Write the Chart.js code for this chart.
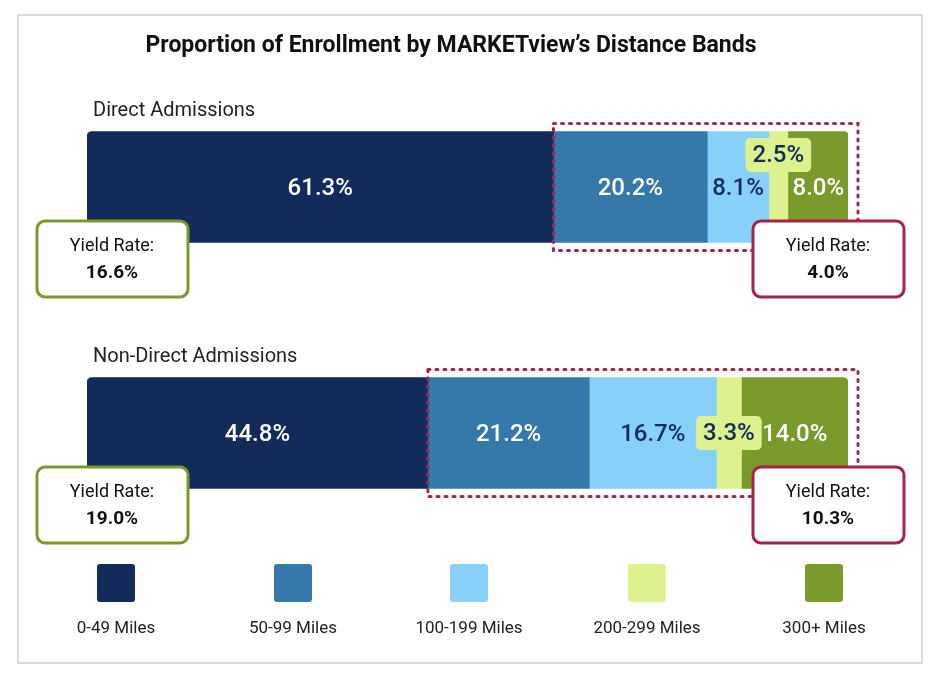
<!DOCTYPE html>
<html>
<head>
<meta charset="utf-8">
<script src="https://cdn.jsdelivr.net/npm/chart.js@4"></script>
<style>
  body { margin: 0; background: #fff; }
  #wrap { position: relative; width: 941px; height: 679px; }
</style>
</head>
<body>
<div id="wrap"><canvas id="chart" width="941" height="679"></canvas></div>
<script>
const groups = ["Direct Admissions", "Non-Direct Admissions"];
const bands = ["0-49 Miles", "50-99 Miles", "100-199 Miles", "200-299 Miles", "300+ Miles"];
const band0 = [61.3, 44.8];
const band1 = [20.2, 21.2];
const band2 = [8.1, 16.7];
const band3 = [2.5, 3.3];
const band4 = [8.0, 14.0];
const yieldNear = [16.6, 19.0];
const yieldFar = [4.0, 10.3];

const colors = ["#122b5a", "#3479a9", "#87d0f9", "#ddf18f", "#7a9a2b"];
const labelColors = ["#fff", "#fff", "#122b5a", "#122b5a", "#fff"];
const FONT = "Roboto, 'Noto Sans', sans-serif";
const RED = "#a52443";
const GREEN = "#7a9a2b";

function roundRect(ctx, x, y, w, h, r) {
  ctx.beginPath();
  ctx.roundRect(x, y, w, h, r);
}

const decor = {
  id: "decor",
  afterDatasetsDraw(chart) {
    const ctx = chart.ctx;
    const xs = chart.scales.x;
    const ys = chart.scales.y;
    const half = 55.5;
    ctx.save();

    // frame
    ctx.strokeStyle = "#cfcfcf";
    ctx.lineWidth = 1.5;
    ctx.strokeRect(18, 15, 904, 648);

    // title
    ctx.fillStyle = "#111";
    ctx.font = "bold 23px " + FONT;
    ctx.textAlign = "center";
    ctx.textBaseline = "middle";
    ctx.fillText("Proportion of Enrollment by MARKETview\u2019s Distance Bands", 451, 46);

    groups.forEach((g, i) => {
      const cy = ys.getPixelForValue(i);
      // group label
      ctx.fillStyle = "#222";
      ctx.font = "20px " + FONT;
      ctx.textAlign = "left";
      ctx.fillText(g, 93, cy - 76);

      // dotted box around 50+ miles
      ctx.strokeStyle = RED;
      ctx.lineWidth = 3;
      ctx.setLineDash([2, 6]);
      ctx.lineCap = "round";
      const x0 = xs.getPixelForValue(band0[i]);
      const x1 = xs.getPixelForValue(100) + 10;
      ctx.strokeRect(x0, cy - half - 8, x1 - x0, 2 * half + 16);
      ctx.setLineDash([]);

      // value labels
      const sets = chart.data.datasets;
      let acc = 0;
      sets.forEach((ds, k) => {
        const v = ds.data[i];
        const mid = xs.getPixelForValue(acc + v / 2);
        acc += v;
        const txt = v.toFixed(1) + "%";
        ctx.font = "500 24px " + FONT;
        ctx.textAlign = "center";
        if (k === 3) {
          const ty = i === 0 ? cy - 32 : cy;
          const tw = ctx.measureText(txt).width + 14;
          ctx.fillStyle = colors[3];
          roundRect(ctx, mid - tw / 2, ty - 17, tw, 34, 5);
          ctx.fill();
          ctx.fillStyle = labelColors[3];
          ctx.fillText(txt, mid, ty + 1);
        } else {
          ctx.fillStyle = labelColors[k];
          ctx.fillText(txt, mid, cy + 2);
        }
      });

      // yield boxes
      const boxes = [[37, GREEN, yieldNear[i]], [753, RED, yieldFar[i]]];
      boxes.forEach(([bx, col, val]) => {
        const by = cy + 34;
        ctx.fillStyle = "#fff";
        ctx.strokeStyle = col;
        ctx.lineWidth = 3;
        roundRect(ctx, bx, by, 151, 76, 8);
        ctx.fill();
        ctx.stroke();
        ctx.fillStyle = "#111";
        ctx.textAlign = "center";
        ctx.font = "18px " + FONT;
        ctx.fillText("Yield Rate:", bx + 75, by + 25);
        ctx.font = "bold 19px " + FONT;
        ctx.fillText(val.toFixed(1) + "%", bx + 75, by + 52);
      });
    });

    // legend
    const lx = [116, 293, 469, 647, 824];
    chart.data.datasets.forEach((ds, k) => {
      ctx.fillStyle = ds.backgroundColor;
      roundRect(ctx, lx[k] - 19, 564, 38, 38, 3);
      ctx.fill();
      ctx.fillStyle = "#222";
      ctx.font = "17px " + FONT;
      ctx.textAlign = "center";
      ctx.fillText(ds.label, lx[k], 629);
    });
    ctx.restore();
  }
};

const seriesData = [band0, band1, band2, band3, band4];

new Chart(document.getElementById("chart"), {
  type: "bar",
  data: {
    labels: groups,
    datasets: seriesData.map((d, k) => ({
      label: bands[k],
      data: d,
      backgroundColor: colors[k],
      barThickness: 111,
      borderSkipped: false,
      borderRadius: k === 0 ? { topLeft: 5, bottomLeft: 5 } : k === 4 ? { topRight: 5, bottomRight: 5 } : 0
    }))
  },
  options: {
    indexAxis: "y",
    responsive: false,
    animation: false,
    layout: { padding: { left: 87, right: 93, top: 64, bottom: 123 } },
    scales: {
      x: { stacked: true, min: 0, max: 100, display: false },
      y: { stacked: true, display: false }
    },
    plugins: { legend: { display: false }, tooltip: { enabled: false } }
  },
  plugins: [decor]
});
</script>
</body>
</html>
